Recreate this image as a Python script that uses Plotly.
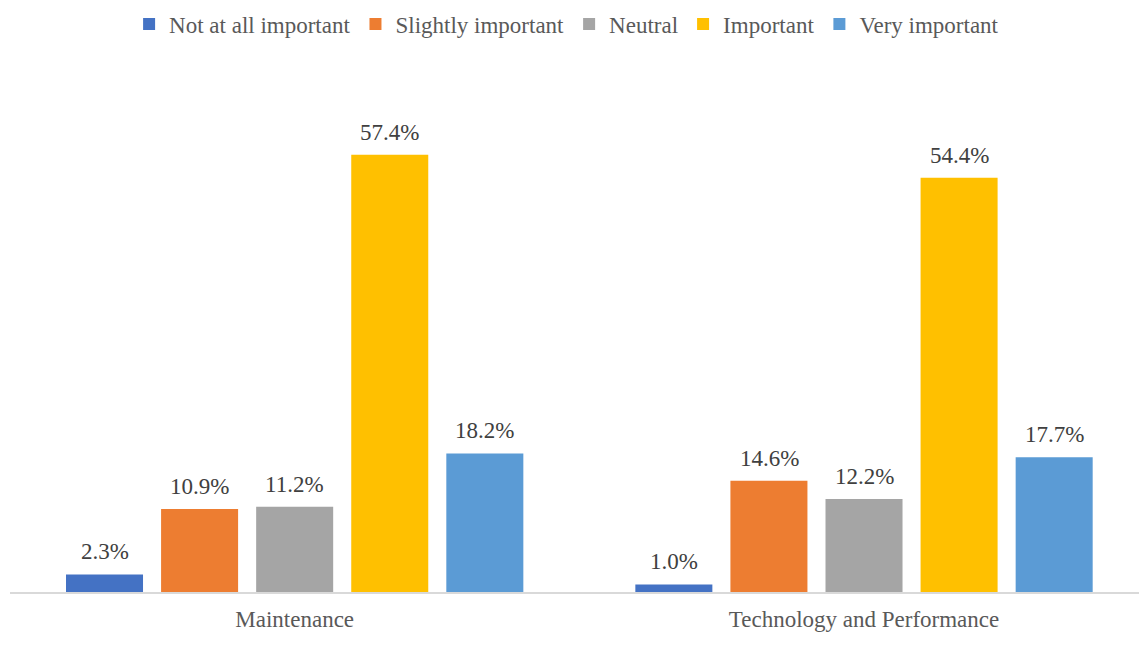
import plotly.graph_objects as go

categories = ["Maintenance", "Technology and Performance"]
series_names = ["Not at all important", "Slightly important", "Neutral", "Important", "Very important"]
not_at_all = [2.3, 1.0]
slightly = [10.9, 14.6]
neutral = [11.2, 12.2]
important = [57.4, 54.4]
very = [18.2, 17.7]

series_values = [not_at_all, slightly, neutral, important, very]
colors = ["#4472C4", "#ED7D31", "#A5A5A5", "#FFC000", "#5B9BD5"]

FONT = "Liberation Serif, Times New Roman, serif"
TEXT_COLOR = "#595959"
FS = 23

fig = go.Figure()
for name, vals, col in zip(series_names, series_values, colors):
    fig.add_trace(go.Bar(
        name=name, x=categories, y=vals, marker=dict(color=col, line=dict(width=0)),
    ))

# value labels above each bar, offset horizontally to the bar's slot in its group
pitch = 95
n = len(series_names)
for i, vals in enumerate(series_values):
    for cat, v in zip(categories, vals):
        fig.add_annotation(
            x=cat, y=v, xref="x", yref="y", text=f"{v:.1f}%", showarrow=False,
            xshift=(i - (n - 1) / 2) * pitch, yanchor="bottom", yshift=8,
            font=dict(family=FONT, size=FS, color="#404040"),
        )

fig.update_layout(
    width=1139, height=646,
    margin=dict(l=10, r=0, t=135, b=54),
    paper_bgcolor="white", plot_bgcolor="white",
    barmode="group", bargap=0.165, bargroupgap=0.19,
    font=dict(family=FONT, size=FS, color=TEXT_COLOR),
    showlegend=True,
    legend=dict(
        orientation="h", x=0.493, xanchor="center", y=0.996, yref="container", yanchor="top",
        font=dict(family=FONT, size=FS, color=TEXT_COLOR),
        itemwidth=30, tracegroupgap=0, itemclick=False,
    ),
    xaxis=dict(
        range=[-0.5, 1.483],
        showline=True, linecolor="#D9D9D9", linewidth=1.5, ticks="", showgrid=False,
        ticklabelstandoff=6,
        tickfont=dict(family=FONT, size=FS, color=TEXT_COLOR),
    ),
    yaxis=dict(range=[0, 60], visible=False, showgrid=False, zeroline=False),
)

fig.write_html("out.html")
